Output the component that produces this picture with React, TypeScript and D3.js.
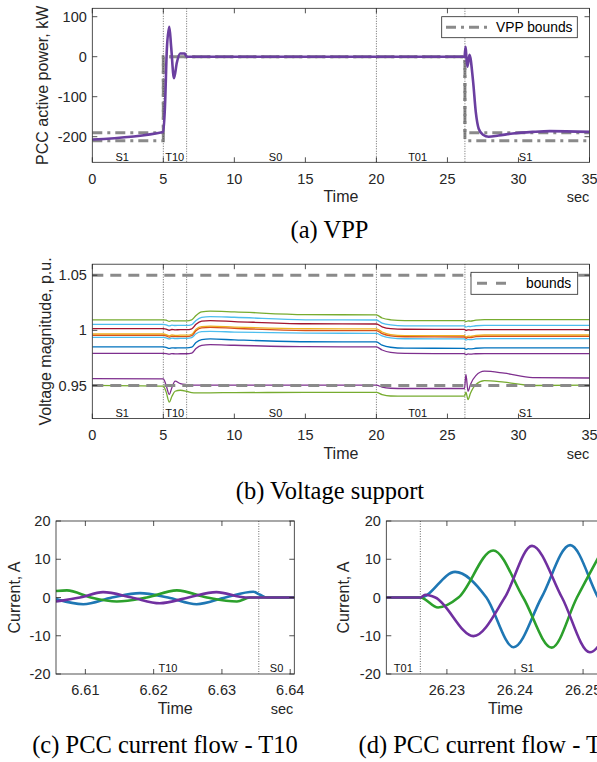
import React, { useEffect, useRef } from 'react';
import * as d3 from 'd3';

const W = 597;
const H = 762;
const FONT = 'Liberation Sans, Arial, Helvetica, sans-serif';
const SERIF = 'Liberation Serif, Times New Roman, serif';
const INK = '#262626';

// ---- (a) VPP active power at the PCC
const vppTimes = [0, 5, 5.12, 5.25, 5.42, 5.55, 5.75, 5.95, 6.18, 6.5, 6.64, 26.2, 26.28, 26.34, 26.41, 26.55, 26.8, 27.0, 27.2, 27.5, 27.9, 28.6, 29.6, 31, 32.2, 35];
const vppPower = [-207, -188, -120, 20, 75, 25, -54, -15, 8, 8, 0, 0, 25, -5, -25, 5, -60, -140, -180, -195, -200, -197, -192, -188, -186, -188];
const boundTimes = [0, 5, 5, 26.23, 26.23, 35];
const boundUpper = [-190, -190, 0, 0, -190, -190];
const boundLower = [-210, -210, 0, 0, -210, -210];

// switching instants and stage names, shared by (a) and (b)
const switchTimes = [5, 6.64, 20, 26.23];
const stageNames = ['S1', 'T10', 'S0', 'T01', 'S1'];
const stageAt = [2.1, 5.8, 12.9, 22.9, 30.5];

// ---- (b) bus voltage magnitudes
const voltTimes = [0, 5, 5.2, 5.42, 5.6, 5.83, 6.2, 6.64, 7.0, 7.3, 7.7, 8.3, 10, 15, 20, 20.4, 21, 22, 26.2, 26.3, 26.45, 26.62, 27, 27.6, 29, 31, 35];
const voltGreen = [1.0095, 1.0095, 1.0092, 1.0082, 1.0088, 1.0086, 1.0087, 1.0087, 1.0095, 1.0135, 1.0168, 1.0175, 1.0168, 1.0143, 1.0140, 1.0112, 1.0096, 1.0089, 1.0088, 1.0080, 1.0086, 1.0084, 1.0093, 1.0097, 1.0097, 1.0097, 1.0097];
const voltSky = [1.0054, 1.0054, 1.0050, 1.0040, 1.0047, 1.0044, 1.0045, 1.0045, 1.0053, 1.0090, 1.0118, 1.0125, 1.0119, 1.0096, 1.0094, 1.0066, 1.0049, 1.0041, 1.0040, 1.0030, 1.0036, 1.0034, 1.0042, 1.0045, 1.0045, 1.0045, 1.0045];
const voltRed = [1.0015, 1.0015, 1.0011, 1.0001, 1.0008, 1.0005, 1.0006, 1.0006, 1.0014, 1.0055, 1.0083, 1.0088, 1.0080, 1.0060, 1.0058, 1.0032, 1.0015, 1.0010, 1.0009, 0.9999, 1.0005, 1.0003, 1.0006, 1.0006, 1.0006, 1.0006, 1.0006];
const voltYellow = [0.9967, 0.9967, 0.9962, 0.9950, 0.9958, 0.9955, 0.9956, 0.9956, 0.9965, 1.0010, 1.0034, 1.0038, 1.0030, 1.0015, 1.0013, 0.9985, 0.9962, 0.9953, 0.9952, 0.9940, 0.9948, 0.9946, 0.9955, 0.9958, 0.9958, 0.9958, 0.9958];
const voltOrange = [0.9955, 0.9955, 0.9950, 0.9938, 0.9946, 0.9943, 0.9944, 0.9944, 0.9952, 0.9996, 1.0022, 1.0027, 1.0018, 0.9999, 0.9997, 0.9970, 0.9950, 0.9942, 0.9940, 0.9928, 0.9936, 0.9934, 0.9943, 0.9946, 0.9946, 0.9946, 0.9946];
const voltSky2 = [0.9937, 0.9937, 0.9933, 0.9922, 0.9929, 0.9926, 0.9927, 0.9927, 0.9934, 0.9970, 0.9988, 0.9991, 0.9985, 0.9975, 0.9973, 0.9950, 0.9932, 0.9924, 0.9922, 0.9912, 0.9918, 0.9916, 0.9922, 0.9925, 0.9925, 0.9925, 0.9925];
const voltBlue = [0.9850, 0.9850, 0.9846, 0.9836, 0.9842, 0.9840, 0.9841, 0.9841, 0.9848, 0.9890, 0.9916, 0.9922, 0.9914, 0.9897, 0.9895, 0.9866, 0.9847, 0.9839, 0.9837, 0.9827, 0.9834, 0.9832, 0.9838, 0.9841, 0.9841, 0.9841, 0.9841];
const voltPurple = [0.9792, 0.9792, 0.9790, 0.9784, 0.9789, 0.9787, 0.9788, 0.9788, 0.9794, 0.9835, 0.9863, 0.9870, 0.9865, 0.9852, 0.9850, 0.9822, 0.9800, 0.9791, 0.9789, 0.9780, 0.9786, 0.9784, 0.9788, 0.9789, 0.9789, 0.9789, 0.9789];
const voltLowPurple = [0.9563, 0.9560, 0.9500, 0.9419, 0.9480, 0.9539, 0.9517, 0.9508, 0.9504, 0.9503, 0.9503, 0.9503, 0.9503, 0.9503, 0.9503, 0.9485, 0.9475, 0.9473, 0.9473, 0.9600, 0.9448, 0.9510, 0.9590, 0.9630, 0.9612, 0.9572, 0.9568];
const voltLowGreen = [0.9502, 0.9495, 0.9440, 0.9349, 0.9400, 0.9448, 0.9457, 0.9448, 0.9436, 0.9434, 0.9434, 0.9434, 0.9436, 0.9437, 0.9437, 0.9418, 0.9405, 0.9403, 0.9403, 0.9440, 0.9373, 0.9430, 0.9510, 0.9545, 0.9530, 0.9500, 0.9503];
const voltLimits = [0.95, 1.05];

const voltSeries = [voltGreen, voltSky, voltRed, voltYellow, voltOrange, voltSky2, voltBlue, voltPurple, voltLowPurple, voltLowGreen];
const voltColors = ['#77AC30', '#4DBEEE', '#A2142F', '#EDB120', '#D95319', '#4DBEEE', '#0072BD', '#7E2F8E', '#7E2F8E', '#77AC30'];

// ---- (c) PCC currents around the end of T10, [time s, current A]
const t10Blue = [[6.6057, -0.4], [6.6097, -1.76], [6.6139, 0], [6.6180, 1.15], [6.6221, 0], [6.6263, -1.76], [6.6305, 0], [6.6346, 1.5], [6.6356, 0.7], [6.6366, 0], [6.6406, 0]];
const t10Green = [[6.6057, 1.7], [6.6073, 1.85], [6.6108, 0], [6.6146, -1.06], [6.6190, 0], [6.6234, 1.85], [6.6278, 0], [6.6322, -1.06], [6.6341, 0], [6.6406, 0]];
const t10Purple = [[6.6057, -1.06], [6.6092, 0], [6.6126, 1.4], [6.6168, 0], [6.6209, -1.5], [6.6251, 0], [6.6292, 1.4], [6.6335, 0], [6.6406, 0]];
const t10Switch = [6.6354];
const t10Names = ['T10', 'S0'];
const t10At = [6.6221, 6.638];

// ---- (d) PCC currents around the start of S1
const s1Blue = [[26.2211, 0], [26.2261, 0], [26.2312, 6.7], [26.2358, 0], [26.2398, -13.0], [26.2439, 0], [26.2481, 13.7], [26.2522, 0], [26.2565, -14]];
const s1Green = [[26.2211, 0], [26.2261, 0], [26.2287, -2.6], [26.2317, 0], [26.2368, 12.3], [26.2412, 0], [26.2454, -13.1], [26.2491, 0], [26.2532, 13.6]];
const s1Purple = [[26.2211, 0], [26.2261, 0], [26.2268, 0.7], [26.2283, 0], [26.2339, -10.1], [26.2385, 0], [26.2425, 13.5], [26.2469, 0], [26.2510, -14.3], [26.2553, 0]];
const s1Switch = [26.2261];
const s1Names = ['T01', 'S1'];
const s1At = [26.2236, 26.2418];

const phaseColors = ['#1F77B4', '#2CA02C', '#7030A0'];

type Sel = d3.Selection<any, unknown, null, undefined>;

function frame(g: Sel, x: any, y: any, xTicks: number[], yTicks: number[], xFmt: (v: number) => string,
  yFmt: (v: number) => string, yLabel: string, yLabelX: number, secX: number | null) {
  const [x0, x1] = x.range();
  const [yb, yt] = y.range();
  g.append('rect').attr('x', x0).attr('y', yt).attr('width', x1 - x0).attr('height', yb - yt)
    .attr('fill', 'none').attr('stroke', INK).attr('stroke-width', 0.8);
  const tl = 5;
  xTicks.forEach(t => {
    const px = x(t);
    g.append('line').attr('x1', px).attr('x2', px).attr('y1', yb).attr('y2', yb - tl).attr('stroke', INK).attr('stroke-width', 0.8);
    g.append('line').attr('x1', px).attr('x2', px).attr('y1', yt).attr('y2', yt + tl).attr('stroke', INK).attr('stroke-width', 0.8);
    g.append('text').attr('x', px).attr('y', yb + 21.3).attr('text-anchor', 'middle')
      .attr('font-family', FONT).attr('font-size', 14.5).attr('fill', INK).text(xFmt(t));
  });
  yTicks.forEach(v => {
    const py = y(v);
    g.append('line').attr('x1', x0).attr('x2', x0 + tl).attr('y1', py).attr('y2', py).attr('stroke', INK).attr('stroke-width', 0.8);
    g.append('line').attr('x1', x1).attr('x2', x1 - tl).attr('y1', py).attr('y2', py).attr('stroke', INK).attr('stroke-width', 0.8);
    g.append('text').attr('x', x0 - 5.5).attr('y', py + 5).attr('text-anchor', 'end')
      .attr('font-family', FONT).attr('font-size', 14.5).attr('fill', INK).text(yFmt(v));
  });
  g.append('text').attr('transform', `translate(${yLabelX},${(yb + yt) / 2}) rotate(-90)`)
    .attr('text-anchor', 'middle').attr('font-family', FONT).attr('font-size', 16).attr('fill', INK).text(yLabel);
  g.append('text').attr('x', (x0 + x1) / 2).attr('y', yb + 40).attr('text-anchor', 'middle')
    .attr('font-family', FONT).attr('font-size', 16).attr('fill', INK).text('Time');
  if (secX !== null) {
    g.append('text').attr('x', secX).attr('y', yb + 40).attr('text-anchor', 'middle')
      .attr('font-family', FONT).attr('font-size', 14.5).attr('fill', INK).text('sec');
  }
}

function stages(g: Sel, x: any, y: any, switches: number[], names: string[], at: number[]) {
  const [yb, yt] = y.range();
  switches.forEach(t => {
    g.append('line').attr('x1', x(t)).attr('x2', x(t)).attr('y1', yt).attr('y2', yb)
      .attr('stroke', '#444').attr('stroke-width', 0.8).attr('stroke-dasharray', '1,1.5');
  });
  names.forEach((n, i) => {
    g.append('text').attr('x', x(at[i])).attr('y', yb - 1.8).attr('text-anchor', 'middle')
      .attr('font-family', FONT).attr('font-size', 11).attr('fill', '#111').text(n);
  });
}

function clipTo(svg: Sel, id: string, x: any, y: any) {
  const [x0, x1] = x.range();
  const [yb, yt] = y.range();
  svg.append('clipPath').attr('id', id).append('rect')
    .attr('x', x0).attr('y', yt).attr('width', x1 - x0).attr('height', yb - yt);
}

function caption(svg: Sel, cx: number, by: number, label: string) {
  svg.append('text').attr('x', cx).attr('y', by).attr('text-anchor', 'middle')
    .attr('font-family', SERIF).attr('font-size', 24.5).attr('fill', '#000').text(label);
}

function draw(svg: Sel) {
  // ---------- (a)
  const xa = d3.scaleLinear().domain([0, 35]).range([92.3, 589.5]);
  const ya = d3.scaleLinear().domain([-264, 121]).range([162.3, 8.3]);
  const ga = svg.append('g');
  clipTo(svg, 'clipA', xa, ya);
  const la = d3.line<number>().x((_, i) => xa(boundTimes[i]));
  const bnd = ga.append('g').attr('clip-path', 'url(#clipA)');
  [boundUpper, boundLower].forEach(b => {
    bnd.append('path').attr('d', la.y((_, i) => ya(b[i]))(b) as string)
      .attr('fill', 'none').attr('stroke', '#8a8a8a').attr('stroke-width', 3).attr('stroke-dasharray', '10,5,3,5');
  });
  stages(ga, xa, ya, switchTimes, stageNames, stageAt);
  const vppLine = d3.line<number>().x((_, i) => xa(vppTimes[i])).y(d => ya(d)).curve(d3.curveMonotoneX);
  ga.append('path').attr('clip-path', 'url(#clipA)').attr('d', vppLine(vppPower) as string)
    .attr('fill', 'none').attr('stroke', '#6B3FA0').attr('stroke-width', 2.6);
  frame(ga, xa, ya, d3.range(0, 36, 5), [-200, -100, 0, 100], d => String(d), d => String(d),
    'PCC active power, kW', 47.6, 578);
  ga.append('rect').attr('x', 441.7).attr('y', 16.7).attr('width', 135.6).attr('height', 21)
    .attr('fill', '#fff').attr('stroke', INK).attr('stroke-width', 0.8);
  ga.append('line').attr('x1', 446).attr('x2', 492).attr('y1', 27.2).attr('y2', 27.2)
    .attr('stroke', '#8a8a8a').attr('stroke-width', 3).attr('stroke-dasharray', '10,5,3,5');
  ga.append('text').attr('x', 496).attr('y', 32.2).attr('font-family', FONT).attr('font-size', 13.8)
    .attr('fill', '#000').text('VPP bounds');
  caption(svg, 329.5, 238, '(a) VPP');

  // ---------- (b)
  const xb = d3.scaleLinear().domain([0, 35]).range([92.3, 589.5]);
  const yb = d3.scaleLinear().domain([0.92, 1.06]).range([418.6, 264.2]);
  const gb = svg.append('g');
  clipTo(svg, 'clipB', xb, yb);
  stages(gb, xb, yb, switchTimes, stageNames, stageAt);
  const vl = d3.line<number>().x((_, i) => xb(voltTimes[i])).y(d => yb(d)).curve(d3.curveMonotoneX);
  voltSeries.forEach((s, k) => {
    gb.append('path').attr('clip-path', 'url(#clipB)').attr('d', vl(s) as string)
      .attr('fill', 'none').attr('stroke', voltColors[k]).attr('stroke-width', 1.3);
  });
  voltLimits.forEach(v => {
    gb.append('line').attr('x1', xb(0)).attr('x2', xb(35)).attr('y1', yb(v)).attr('y2', yb(v))
      .attr('stroke', '#8a8a8a').attr('stroke-width', 3).attr('stroke-dasharray', '11,7');
  });
  frame(gb, xb, yb, d3.range(0, 36, 5), [0.95, 1, 1.05], d => String(d), d => String(d),
    'Voltage magnitude, p.u.', 50.6, 578);
  gb.append('rect').attr('x', 471).attr('y', 272.3).attr('width', 106.7).attr('height', 22)
    .attr('fill', '#fff').attr('stroke', INK).attr('stroke-width', 0.8);
  gb.append('line').attr('x1', 477).attr('x2', 506).attr('y1', 283.3).attr('y2', 283.3)
    .attr('stroke', '#8a8a8a').attr('stroke-width', 3).attr('stroke-dasharray', '10,9');
  gb.append('text').attr('x', 526).attr('y', 288.3).attr('font-family', FONT).attr('font-size', 13.8)
    .attr('fill', '#000').text('bounds');
  caption(svg, 330, 499, '(b) Voltage support');

  // ---------- (c)
  const xc = d3.scaleLinear().domain([6.6057, 6.6406]).range([56, 294.3]);
  const yc = d3.scaleLinear().domain([-20, 20]).range([674, 521]);
  const gc = svg.append('g');
  clipTo(svg, 'clipC', xc, yc);
  stages(gc, xc, yc, t10Switch, t10Names, t10At);
  const lc = d3.line<number[]>().x(d => xc(d[0])).y(d => yc(d[1])).curve(d3.curveMonotoneX);
  [t10Blue, t10Green, t10Purple].forEach((s, k) => {
    gc.append('path').attr('clip-path', 'url(#clipC)').attr('d', lc(s) as string)
      .attr('fill', 'none').attr('stroke', phaseColors[k]).attr('stroke-width', 2.6);
  });
  frame(gc, xc, yc, [6.61, 6.62, 6.63, 6.64], [-20, -10, 0, 10, 20], d => d.toFixed(2), d => String(d),
    'Current, A', 19.6, 282);
  caption(svg, 165, 753, '(c) PCC current flow - T10');

  // ---------- (d)
  const xd = d3.scaleLinear().domain([26.2211, 26.2561]).range([386.3, 624.6]);
  const yd = d3.scaleLinear().domain([-20, 20]).range([674, 521]);
  const gd = svg.append('g');
  clipTo(svg, 'clipD', xd, yd);
  stages(gd, xd, yd, s1Switch, s1Names, s1At);
  const ld = d3.line<number[]>().x(d => xd(d[0])).y(d => yd(d[1])).curve(d3.curveMonotoneX);
  [s1Blue, s1Green, s1Purple].forEach((s, k) => {
    gd.append('path').attr('clip-path', 'url(#clipD)').attr('d', ld(s) as string)
      .attr('fill', 'none').attr('stroke', phaseColors[k]).attr('stroke-width', 2.6);
  });
  frame(gd, xd, yd, [26.23, 26.24, 26.25], [-20, -10, 0, 10, 20], d => d.toFixed(2), d => String(d),
    'Current, A', 349.3, null);
  caption(svg, 492, 753, '(d) PCC current flow - T01');
}

export default function App() {
  const ref = useRef<SVGSVGElement>(null);
  useEffect(() => {
    const svg = d3.select(ref.current) as Sel;
    svg.selectAll('*').remove();
    draw(svg);
  }, []);
  return (
    <svg ref={ref} width={W} height={H}
      style={{ position: 'absolute', left: 0, top: 0, background: '#fff', display: 'block' }} />
  );
}
